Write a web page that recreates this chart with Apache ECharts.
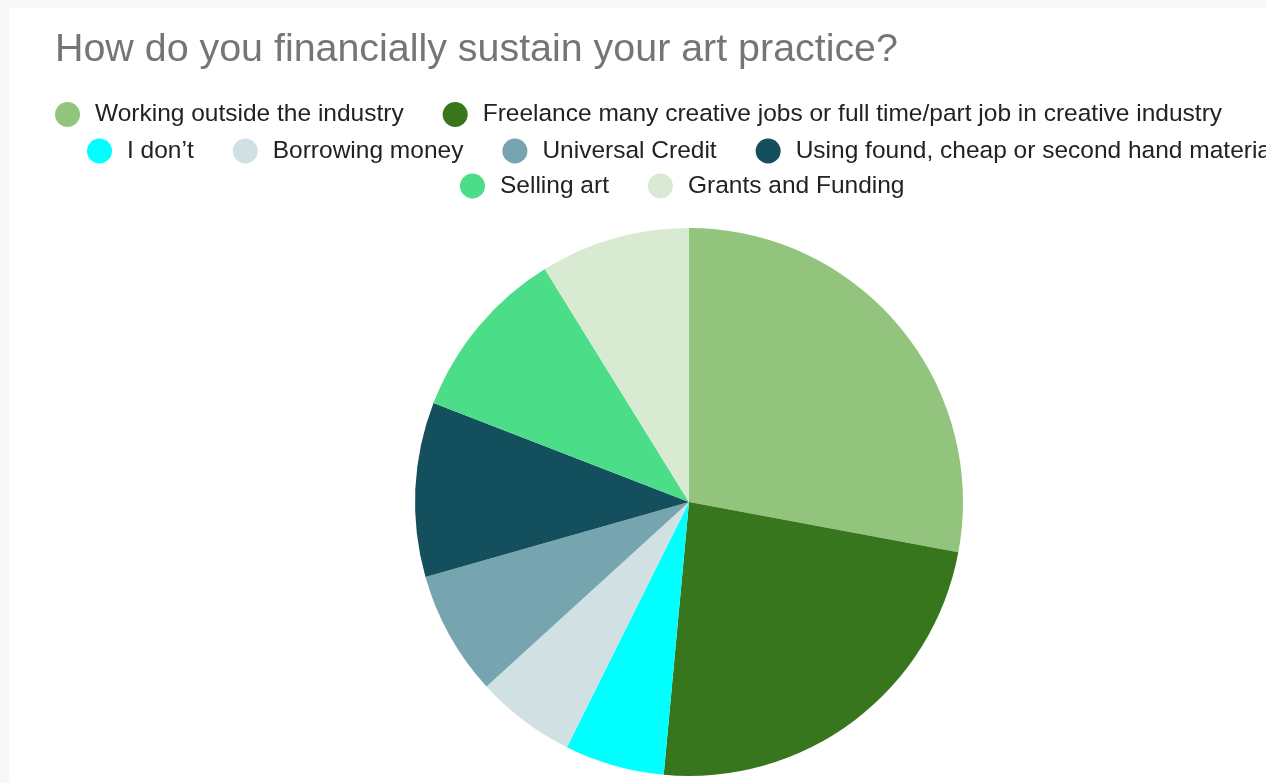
<!DOCTYPE html>
<html>
<head>
<meta charset="utf-8">
<title>How do you financially sustain your art practice?</title>
<script src="https://cdn.jsdelivr.net/npm/echarts@6/dist/echarts.min.js"></script>
<style>
  html, body { margin: 0; padding: 0; background: #f8f8f8; }
  #chart { width: 1266px; height: 783px; }
</style>
</head>
<body>
<div id="chart"></div>
<script>
// Survey answers (number of respondents per answer)
const categories = [
  'Working outside the industry',
  'Freelance many creative jobs or full time/part job in creative industry',
  'I don\u2019t',
  'Borrowing money',
  'Universal Credit',
  'Using found, cheap or second hand materials',
  'Selling art',
  'Grants and Funding'
];
const responses = [19, 16, 4, 4, 5, 7, 7, 6];
const sliceColors = ['#93c47d', '#38761d', '#00ffff', '#d0e0e3', '#76a5af', '#134f5c', '#4cdd89', '#d9ead3'];

// Legend rows as laid out above the pie
const legendRows = [
  { names: categories.slice(0, 2), left: 55, top: 102 },
  { names: categories.slice(2, 6), left: 87, top: 138.5 },
  { names: categories.slice(6, 8), left: 460, top: 173.5 }
];

const FONT = '"Liberation Sans", Arial, sans-serif';

const chart = echarts.init(document.getElementById('chart'), null, { renderer: 'canvas' });

chart.setOption({
  backgroundColor: '#f8f8f8',
  animation: false,
  graphic: [{
    type: 'rect',
    z: -10,
    silent: true,
    shape: { x: 9, y: 8, width: 1300, height: 800 },
    style: { fill: '#ffffff' }
  }],
  title: {
    text: 'How do you financially sustain your art practice?',
    left: 55,
    top: 31,
    padding: 0,
    textStyle: { fontFamily: FONT, fontSize: 39.4, fontWeight: 'normal', color: '#757575' }
  },
  legend: legendRows.map(row => ({
    data: row.names,
    orient: 'horizontal',
    left: row.left,
    top: row.top,
    width: 1600,
    padding: 0,
    icon: 'circle',
    itemWidth: 25,
    itemHeight: 25,
    itemGap: 39,
    textStyle: { fontFamily: FONT, fontSize: 24.5, color: '#222222', padding: [0, 0, 0, 10] }
  })),
  series: [{
    type: 'pie',
    center: [689, 502],
    radius: 274,
    startAngle: 90,
    clockwise: true,
    label: { show: false },
    labelLine: { show: false },
    emphasis: { scale: false },
    itemStyle: { borderWidth: 0 },
    data: categories.map((name, i) => ({
      name: name,
      value: responses[i],
      itemStyle: { color: sliceColors[i] }
    }))
  }]
});
</script>
</body>
</html>
